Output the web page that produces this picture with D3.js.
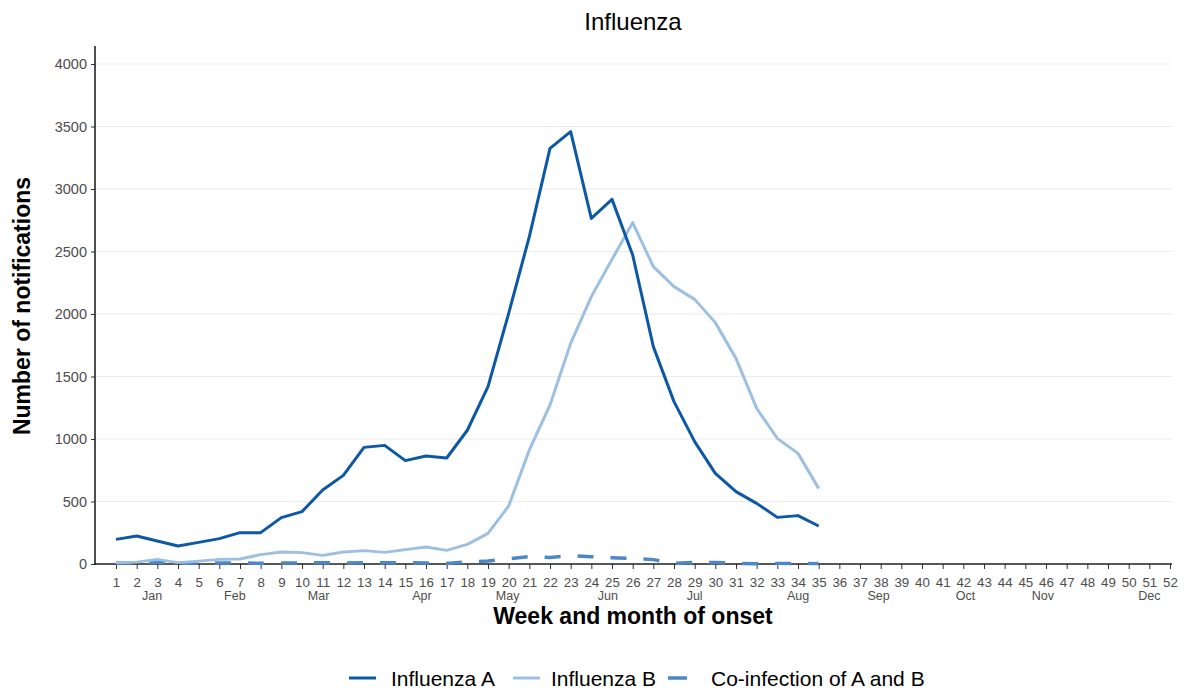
<!DOCTYPE html>
<html><head><meta charset="utf-8">
<script src="https://cdn.jsdelivr.net/npm/d3@7"></script>
<style>body{margin:0;background:#fff;font-family:"Liberation Sans",Arial,sans-serif;}</style>
</head><body><svg id="c" width="1186" height="690" font-family="Liberation Sans, Arial, sans-serif"></svg>
<script>
const weeks = d3.range(1, 53);
const dataWeeks = d3.range(1, 36);
const fluA = [197,224,184,144,173,203,251,251,371,419,592,709,933,949,827,864,848,1070,1419,2005,2619,3325,3459,2765,2917,2472,1739,1299,979,725,579,485,373,387,304];
const fluB = [11,15,37,11,23,37,40,75,96,91,69,96,107,93,115,136,109,157,245,464,912,1272,1765,2139,2437,2731,2379,2219,2117,1931,1645,1245,1005,885,605];
const coInf = [8,8,14,6,8,8,8,6,8,8,10,8,10,10,10,8,5,16,24,42,60,53,66,58,50,44,35,6,13,13,5,3,5,5,3];
const months = ["Jan","Feb","Mar","Apr","May","Jun","Jul","Aug","Sep","Oct","Nov","Dec"];
const monthPos = [2.75,6.75,10.8,15.8,19.95,24.8,29,34,37.9,42.1,45.85,51];
const yTicks = [0,500,1000,1500,2000,2500,3000,3500,4000];
const seriesNames = ["Influenza A","Influenza B","Co-infection of A and B"];

const svg = d3.select("#c");
const x = d3.scaleLinear().domain([1,52]).range([116,1170]);
const y = d3.scaleLinear().domain([0,4000]).range([564,64]);
const colors = ["#0d58a5","#9dc0e2","#4e87c5"];

// gridlines
svg.append("g").selectAll("line").data(yTicks).join("line")
  .attr("x1",95).attr("x2",1172).attr("y1",d=>y(d)).attr("y2",d=>y(d))
  .attr("stroke","#ebebeb").attr("stroke-width",1.2);

// y axis
const ya = svg.append("g").attr("transform","translate(95,0)")
  .call(d3.axisLeft(y).tickValues(yTicks).tickSize(4).tickPadding(4).tickFormat(d3.format("d")));
ya.select(".domain").remove();
ya.selectAll(".tick line").attr("stroke","#333");
ya.selectAll("text").attr("font-size",14.5).attr("fill","#4d4d4d").attr("font-family","Liberation Sans, Arial, sans-serif");
svg.append("line").attr("x1",95).attr("x2",95).attr("y1",46).attr("y2",565).attr("stroke","#222").attr("stroke-width",1.6);

// x axis
const xa = svg.append("g").attr("transform","translate(0,564)")
  .call(d3.axisBottom(x).tickValues(weeks).tickSize(5).tickPadding(8).tickFormat(d3.format("d")));
xa.select(".domain").remove();
xa.selectAll(".tick line").attr("stroke","#333");
xa.selectAll("text").attr("font-size",13.3).attr("fill","#4d4d4d").attr("dy",null).attr("y",23).attr("font-family","Liberation Sans, Arial, sans-serif");
svg.append("line").attr("x1",94).attr("x2",1172).attr("y1",564).attr("y2",564).attr("stroke","#222").attr("stroke-width",1.6);

svg.append("g").selectAll("text").data(months).join("text")
  .attr("x",(d,i)=>x(monthPos[i])).attr("y",600).attr("text-anchor","middle")
  .attr("font-size",12.5).attr("fill","#4d4d4d").text(d=>d);

// lines
const line = d3.line().x((d,i)=>x(dataWeeks[i])).y(d=>y(d)).curve(d3.curveLinear);
svg.append("path").datum(coInf).attr("d",line).attr("fill","none").attr("stroke",colors[2]).attr("stroke-width",3.5).attr("stroke-dasharray","16,17");
svg.append("path").datum(fluB).attr("d",line).attr("fill","none").attr("stroke",colors[1]).attr("stroke-width",3).attr("stroke-linejoin","round");
svg.append("path").datum(fluA).attr("d",line).attr("fill","none").attr("stroke",colors[0]).attr("stroke-width",3).attr("stroke-linejoin","round");

// titles
svg.append("text").attr("x",633).attr("y",30).attr("text-anchor","middle").attr("font-size",24).attr("fill","#000").text("Influenza");
svg.append("text").attr("x",633).attr("y",624).attr("text-anchor","middle").attr("font-size",23).attr("font-weight","bold").attr("fill","#000").text("Week and month of onset");
svg.append("text").attr("transform","translate(30,306) rotate(-90)").attr("text-anchor","middle").attr("font-size",23).attr("font-weight","bold").attr("fill","#000").text("Number of notifications");

// legend
const legX = [349,513,668];
const textX = [391,551,711];
const leg = svg.append("g");
seriesNames.forEach((n,i)=>{
  leg.append("line").attr("x1",legX[i]).attr("x2",legX[i]+27).attr("y1",678).attr("y2",678)
    .attr("stroke",colors[i]).attr("stroke-width",i==2?3.5:3).attr("stroke-dasharray",i==2?"19,100":null);
  leg.append("text").attr("x",textX[i]).attr("y",685.5).attr("font-size",21).attr("fill","#000").text(n);
});
</script></body></html>
